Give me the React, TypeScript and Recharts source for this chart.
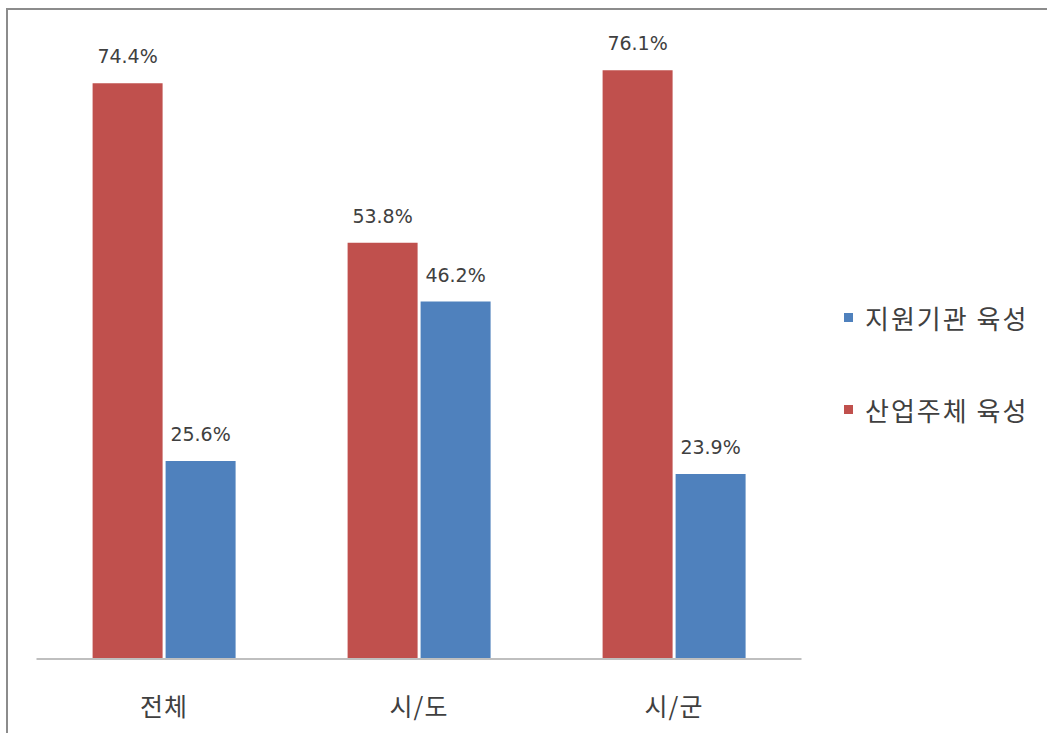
import { BarChart, Bar, XAxis, YAxis, LabelList } from "recharts";

const categories = ["전체", "시/도", "시/군"];
const industryValues = [74.4, 53.8, 76.1];
const supportValues = [25.6, 46.2, 23.9];

const RED = "#C0504D";
const BLUE = "#4F81BD";
const TEXT = "#404040";
const FONT = "'Noto Sans CJK KR', 'Noto Sans', sans-serif";
const NUM_FONT = "'DejaVu Sans', sans-serif";

const data = categories.map((c, i) => ({
  name: c,
  산업주체: industryValues[i],
  지원기관: supportValues[i],
}));

const legendItems = [
  { label: "지원기관 육성", color: BLUE },
  { label: "산업주체 육성", color: RED },
];

function CategoryTick({ x, y, payload }: any) {
  return (
    <text
      x={x}
      y={y + 38}
      textAnchor="middle"
      dominantBaseline="central"
      fill={TEXT}
      fontSize={25}
      fontFamily={FONT}
      letterSpacing={1}
    >
      {payload.value}
    </text>
  );
}

function LegendBox() {
  return (
    <div
      style={{
        position: "absolute",
        left: 844,
        top: 301,
        fontFamily: FONT,
      }}
    >
      {legendItems.map((it, i) => (
        <div
          key={it.label}
          style={{
            display: "flex",
            alignItems: "center",
            height: 32,
            marginBottom: i === 0 ? 60 : 0,
          }}
        >
          <span
            style={{
              width: 9,
              height: 9,
              background: it.color,
              marginRight: 12,
              display: "inline-block",
            }}
          />
          <span style={{ fontSize: 26, letterSpacing: 2, color: TEXT }}>{it.label}</span>
        </div>
      ))}
    </div>
  );
}

const valueLabel = (key: string) => (
  <LabelList
    dataKey={key}
    position="top"
    offset={20}
    formatter={(v: any) => `${v}%`}
    fill={TEXT}
    fontSize={19}
    fontFamily={NUM_FONT}
  />
);

export default function App() {
  return (
    <div
      style={{
        position: "fixed",
        left: 0,
        top: 0,
        width: 1047,
        height: 733,
        background: "#fff",
        overflow: "hidden",
      }}
    >
      <div
        style={{
          position: "absolute",
          left: 6,
          top: 8,
          width: 1100,
          height: 800,
          borderTop: "2px solid #8c8c8c",
          borderLeft: "2px solid #8c8c8c",
        }}
      />
      <BarChart
        width={1047}
        height={733}
        data={data}
        margin={{ top: 40, right: 245.5, bottom: 0, left: 36.5 }}
        barCategoryGap="22%"
        barGap={3}
      >
        <XAxis
          dataKey="name"
          height={74}
          tickLine={false}
          axisLine={{ stroke: "#bfbfbf", strokeWidth: 2 }}
          tick={<CategoryTick />}
        />
        <YAxis hide domain={[0, 80]} />
        <Bar dataKey="산업주체" fill={RED} isAnimationActive={false}>
          {valueLabel("산업주체")}
        </Bar>
        <Bar dataKey="지원기관" fill={BLUE} isAnimationActive={false}>
          {valueLabel("지원기관")}
        </Bar>
      </BarChart>
      <LegendBox />
    </div>
  );
}
